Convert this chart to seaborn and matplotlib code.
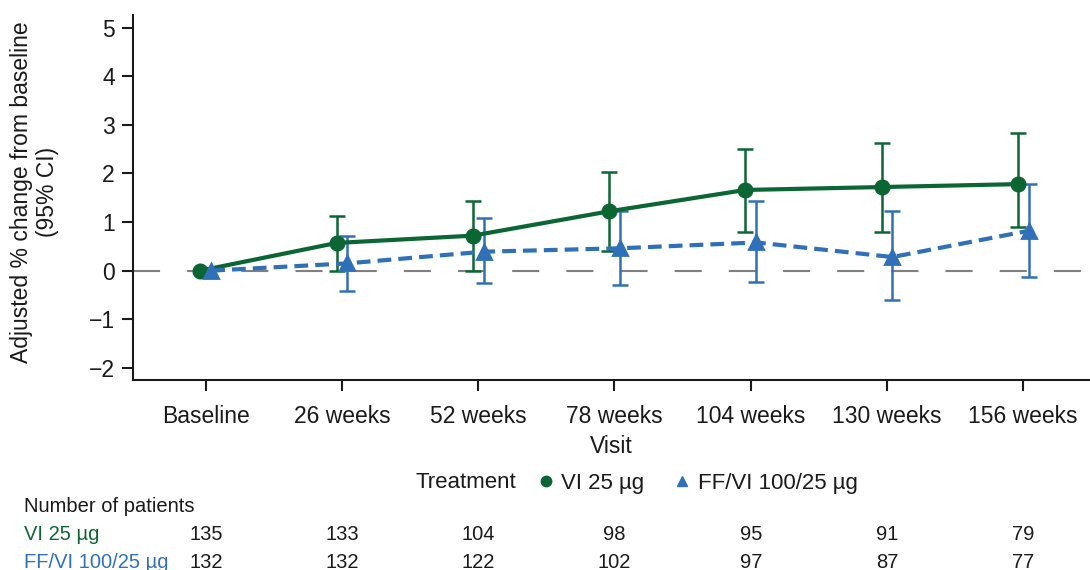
import numpy as np
import pandas as pd
import matplotlib
matplotlib.use("Agg")
import matplotlib.pyplot as plt
import matplotlib.transforms as mtransforms
from matplotlib.lines import Line2D
import seaborn as sns

# data
visits = ["Baseline", "26 weeks", "52 weeks", "78 weeks", "104 weeks", "130 weeks", "156 weeks"]
treatments = ["VI 25 µg", "FF/VI 100/25 µg"]

vi_mean = [0.0, 0.57, 0.72, 1.22, 1.66, 1.72, 1.78]
vi_low = [0.0, 0.00, 0.00, 0.41, 0.80, 0.80, 0.89]
vi_high = [0.0, 1.13, 1.44, 2.02, 2.51, 2.63, 2.84]

ff_mean = [0.0, 0.15, 0.39, 0.46, 0.58, 0.28, 0.82]
ff_low = [0.0, -0.42, -0.26, -0.29, -0.24, -0.60, -0.13]
ff_high = [0.0, 0.72, 1.08, 1.22, 1.43, 1.22, 1.79]

vi_n = [135, 133, 104, 98, 95, 91, 79]
ff_n = [132, 132, 122, 102, 97, 87, 77]

green = "#0c6634"
blue = "#3070b9"
ink = "#1a1a1a"

sns.set_style("ticks")
plt.rcParams["font.family"] = ["Liberation Sans", "DejaVu Sans"]
plt.rcParams["font.size"] = 16.5
plt.rcParams["text.color"] = ink
plt.rcParams["axes.labelcolor"] = ink
plt.rcParams["xtick.color"] = ink
plt.rcParams["ytick.color"] = ink

df = pd.DataFrame({
    "visit": visits * 2,
    "treatment": [treatments[0]] * len(visits) + [treatments[1]] * len(visits),
    "change": vi_mean + ff_mean,
})

fig = plt.figure(figsize=(10.9, 5.7), dpi=100)
ax = fig.add_axes([133 / 1090, 190 / 570, 957 / 1090, 365 / 570])

sns.pointplot(data=df, x="visit", y="change", hue="treatment",
              order=visits, hue_order=treatments, palette=[green, blue],
              markers=["o", "^"], linestyles=["-", "--"], dodge=0.08,
              errorbar=None, legend=False, ax=ax)

lines = ax.lines[:2]
lines[0].set_linewidth(3.0)
lines[0].set_markersize(9.5)
lines[1].set_linewidth(3.0)
lines[1].set_dashes((3.3, 1.7))
lines[1].set_markersize(9.5)
for ln in lines:
    ln.set_zorder(4)

# confidence intervals
for ln, mean, lo, hi, col in [(lines[0], vi_mean, vi_low, vi_high, green),
                              (lines[1], ff_mean, ff_low, ff_high, blue)]:
    x = np.asarray(ln.get_xdata(), dtype=float)
    mean = np.array(mean)
    lo = np.array(lo)
    hi = np.array(hi)
    keep = hi > lo
    ax.errorbar(x[keep], mean[keep], yerr=[mean[keep] - lo[keep], hi[keep] - mean[keep]],
                fmt="none", ecolor=col, elinewidth=1.8, capsize=5.8, capthick=1.8, zorder=3)

ax.axhline(0, color="#808080", lw=1.5, dashes=(13, 13), zorder=1)

ax.set_xlim(-0.534, 6.49)
ax.set_ylim(-2.25, 5.26)
ax.set_yticks(range(-2, 6))
ax.set_yticklabels([str(v).replace("-", "\u2212") for v in range(-2, 6)])
ax.set_xlabel("Visit", labelpad=5)
ax.set_ylabel("Adjusted % change from baseline\n(95% CI)")
ax.yaxis.set_label_coords(-0.077, 0.515)
ax.tick_params(axis="both", length=8, width=1.5, color=ink, labelsize=16.5)
ax.tick_params(axis="x", pad=10)
ax.tick_params(axis="y", pad=5)
sns.despine(ax=ax)
for s in ["left", "bottom"]:
    ax.spines[s].set_linewidth(1.5)
    ax.spines[s].set_color(ink)

# legend
ly = 1 - 483 / 570
fig.text(415 / 1090, ly, "Treatment", ha="left", va="center", fontsize=16)
handles = [Line2D([], [], marker="o", color=green, ls="none", markersize=7.5),
           Line2D([], [], marker="^", color=blue, ls="none", markersize=7.5)]
fig.legend(handles, treatments, loc="center left", bbox_to_anchor=(537 / 1090, ly),
           ncol=2, frameon=False, handlelength=0.8, handletextpad=0.3,
           columnspacing=1.3, borderaxespad=0, borderpad=0, fontsize=16)

# number of patients table
blend = mtransforms.blended_transform_factory(ax.transData, fig.transFigure)
fig.text(24 / 1090, 1 - 507 / 570, "Number of patients", ha="left", va="center", fontsize=14.5)
for y_px, name, counts, col in [(535, treatments[0], vi_n, green), (562, treatments[1], ff_n, blue)]:
    yf = 1 - y_px / 570
    fig.text(24 / 1090, yf, name, ha="left", va="center", color=col, fontsize=14.5)
    for i, n in enumerate(counts):
        ax.text(i, yf, str(n), transform=blend, ha="center", va="center", fontsize=14.5)

fig.savefig("out.png", dpi=100)
